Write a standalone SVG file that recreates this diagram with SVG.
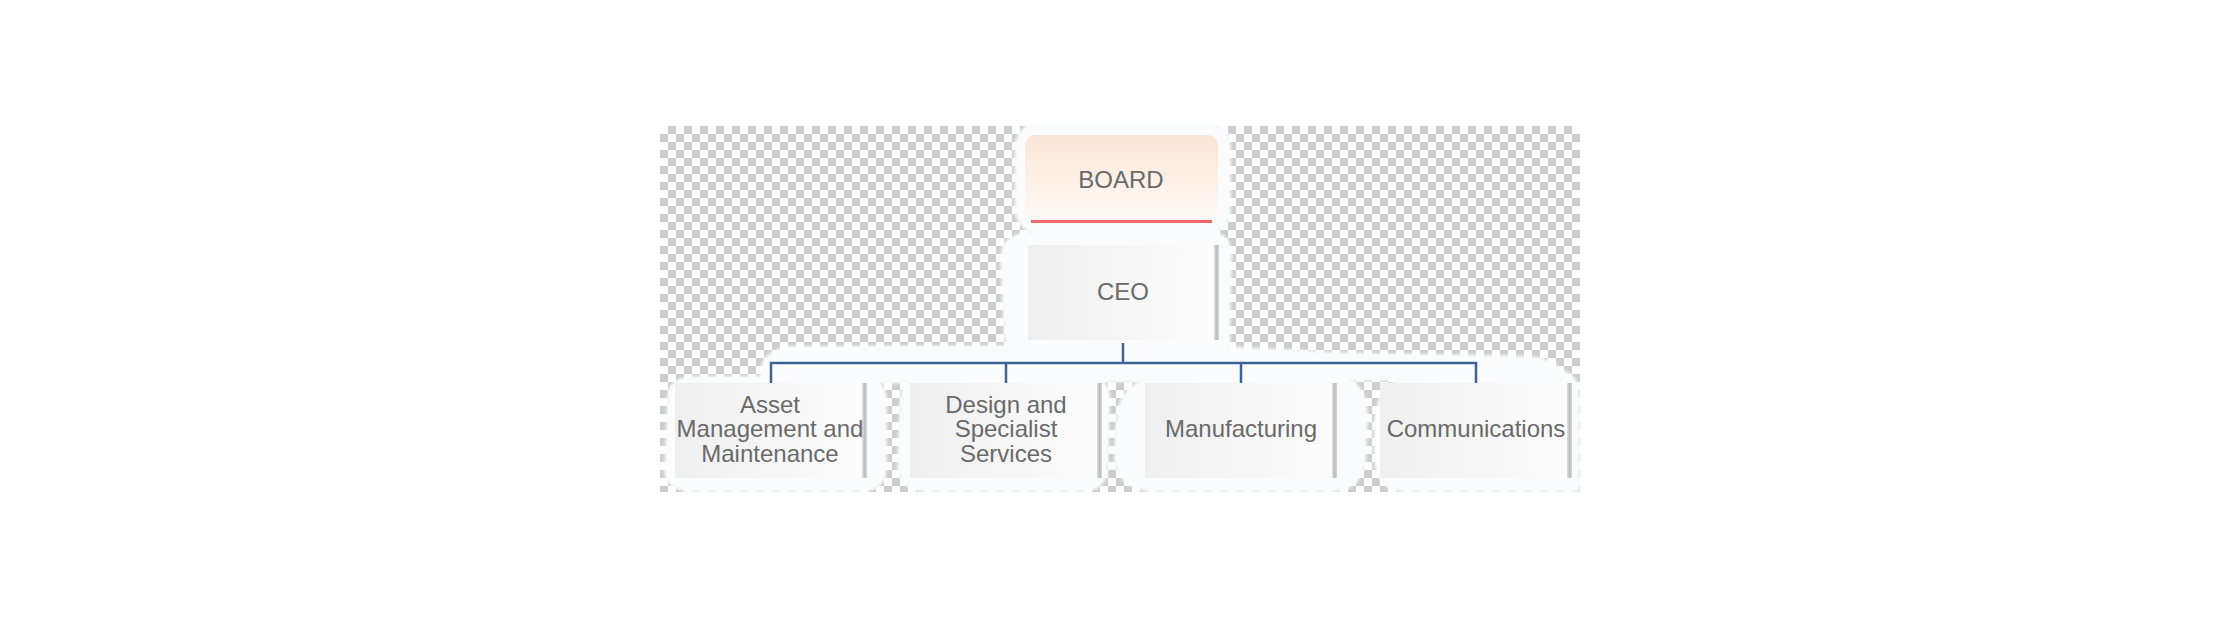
<svg xmlns="http://www.w3.org/2000/svg" width="2240" height="617" viewBox="0 0 2240 617">
  <defs>
    <pattern id="checker" x="660" y="126" width="16" height="16" patternUnits="userSpaceOnUse">
      <rect width="16" height="16" fill="#ffffff"/>
      <rect x="8" y="0" width="8" height="8" fill="#cdcdcd"/>
      <rect x="0" y="8" width="8" height="8" fill="#cdcdcd"/>
    </pattern>
    <linearGradient id="nodeGrad" x1="0" y1="0" x2="1" y2="0">
      <stop offset="0" stop-color="#efefef"/>
      <stop offset="1" stop-color="#fdfdfd"/>
    </linearGradient>
    <linearGradient id="barGrad" x1="0" y1="0" x2="1" y2="0">
      <stop offset="0" stop-color="#e2e2e2"/>
      <stop offset="0.5" stop-color="#bdbdbd"/>
      <stop offset="1" stop-color="#d6d6d6"/>
    </linearGradient>
    <linearGradient id="boardGrad" x1="0" y1="0" x2="0" y2="1">
      <stop offset="0" stop-color="#fbe5d6"/>
      <stop offset="1" stop-color="#fffbf8"/>
    </linearGradient>
    <filter id="soft" x="-10%" y="-10%" width="120%" height="120%">
      <feGaussianBlur stdDeviation="1.5"/>
    </filter>
  </defs>
  <style>
    .glow { fill: #fbfcfd; filter: url(#soft); }
    .box { fill: url(#nodeGrad); }
    .bar { fill: url(#barGrad); }
    .lbl { font-family: "Liberation Sans", Arial, sans-serif; font-size: 24px; fill: #6a6a6a; text-anchor: middle; }
    .conn { fill: none; stroke: #3c6497; stroke-width: 2.5; }
  </style>

  <rect width="2240" height="617" fill="#ffffff"/>
  <rect x="660" y="126" width="920" height="366" fill="url(#checker)"/>

  <g id="glows">
    <rect class="glow" x="1015" y="122" width="216" height="112" rx="24"/>
    <path class="glow" d="M1010,238 Q1020,230 1040,232 L1215,232 Q1232,236 1232,256 L1230,345 Q1228,352 1215,352 L1020,352 Q1003,350 1004,330 L1000,262 Q1000,242 1010,238 Z"/>
    <path class="glow" d="M760,372 Q762,350 790,346 L1150,344 Q1240,346 1330,352 L1530,356 Q1560,360 1558,372 L1556,380 L760,384 Z"/>
    <path class="glow" d="M668,392 Q670,376 700,376 L865,376 Q886,378 887,400 L887,470 Q885,492 860,492 L690,492 Q665,490 664,470 Z"/>
    <path class="glow" d="M900,398 Q902,376 930,376 L1095,376 Q1110,380 1110,400 L1108,470 Q1105,492 1080,492 L925,492 Q898,490 897,465 Z"/>
    <path class="glow" d="M1116,420 Q1118,380 1160,376 L1340,376 Q1368,380 1368,420 L1366,460 Q1362,492 1330,492 L1150,492 Q1115,488 1114,455 Z"/>
    <path class="glow" d="M1374,420 Q1378,380 1410,376 L1560,370 Q1580,372 1580,400 L1580,492 L1400,492 Q1374,488 1374,455 Z"/>
  </g>

  <g id="connectors">
    <path class="conn" d="M1123,343 V363"/>
    <path class="conn" d="M771,383 V363 H1476 V383"/>
    <path class="conn" d="M1006,363 V383"/>
    <path class="conn" d="M1241,363 V383"/>
  </g>

  <g id="board">
    <rect x="1025" y="135" width="193" height="88" rx="11" fill="url(#boardGrad)"/>
    <path d="M1031,221.5 H1212" stroke="#f06a6a" stroke-width="3" fill="none"/>
    <text class="lbl" x="1121" y="188">BOARD</text>
  </g>

  <g id="ceo">
    <rect class="box" x="1028" y="245" width="187" height="95"/>
    <rect class="bar" x="1214" y="245" width="5" height="95"/>
    <text class="lbl" x="1123" y="300">CEO</text>
  </g>

  <g id="asset">
    <rect class="box" x="675" y="383" width="187" height="95"/>
    <rect class="bar" x="862" y="383" width="5" height="95"/>
    <text class="lbl" x="770" y="413">Asset</text>
    <text class="lbl" x="770" y="437">Management and</text>
    <text class="lbl" x="770" y="462">Maintenance</text>
  </g>

  <g id="design">
    <rect class="box" x="910" y="383" width="187" height="95"/>
    <rect class="bar" x="1097" y="383" width="5" height="95"/>
    <text class="lbl" x="1006" y="413">Design and</text>
    <text class="lbl" x="1006" y="437">Specialist</text>
    <text class="lbl" x="1006" y="462">Services</text>
  </g>

  <g id="manufacturing">
    <rect class="box" x="1145" y="383" width="187" height="95"/>
    <rect class="bar" x="1332" y="383" width="5" height="95"/>
    <text class="lbl" x="1241" y="437">Manufacturing</text>
  </g>

  <g id="communications">
    <rect class="box" x="1380" y="383" width="187" height="95"/>
    <rect class="bar" x="1567" y="383" width="5" height="95"/>
    <text class="lbl" x="1476" y="437">Communications</text>
  </g>
</svg>
